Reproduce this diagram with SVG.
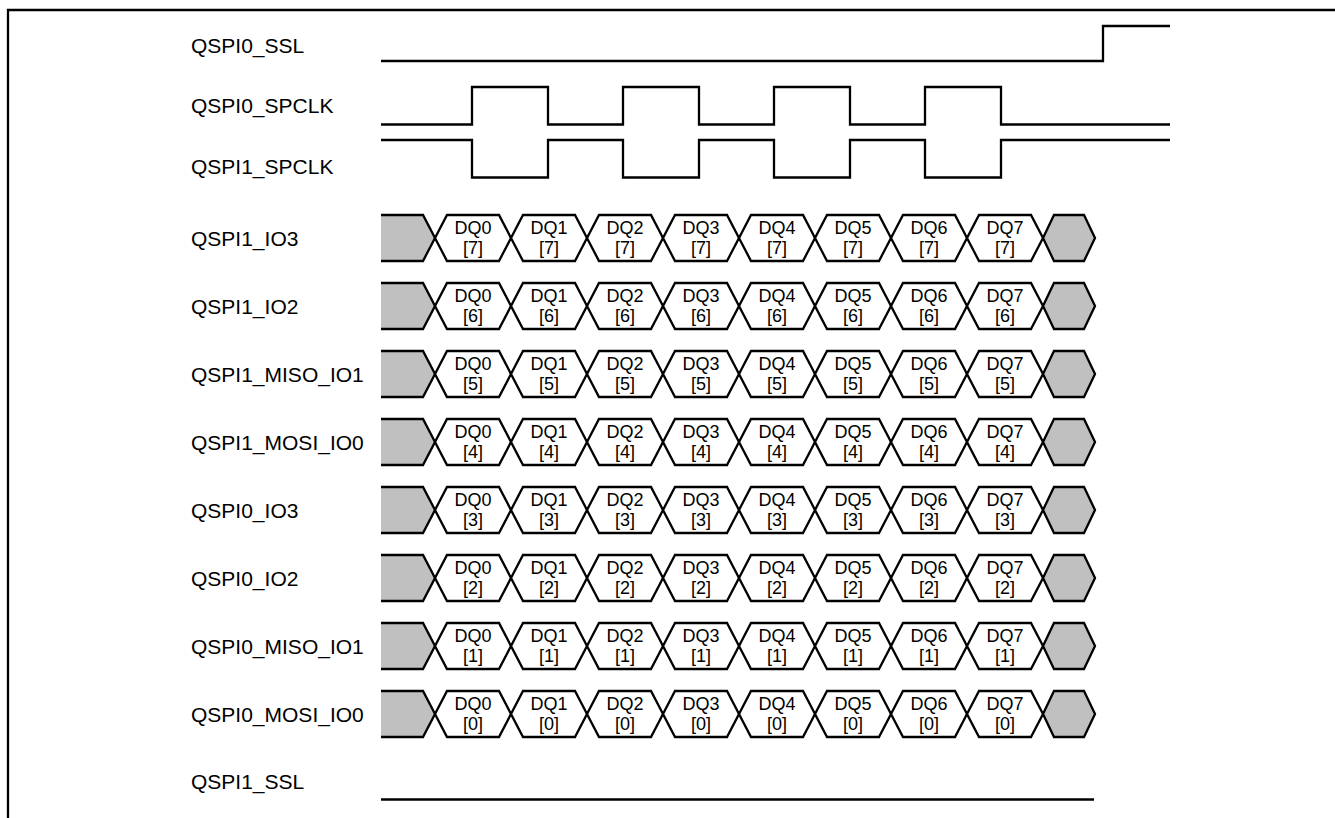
<svg xmlns="http://www.w3.org/2000/svg" xmlns:xlink="http://www.w3.org/1999/xlink" width="1335" height="818" viewBox="0 0 1335 818">
<style>
.frame{fill:none;stroke:#000;stroke-width:2.3}
.w{fill:none;stroke:#000;stroke-width:2.3;stroke-linejoin:miter}
.hx{fill:#fff;stroke:#000;stroke-width:2.3;stroke-linejoin:miter}
.gh{fill:#c0c0c0;stroke:#000;stroke-width:2.3;stroke-linejoin:miter}
.gf{fill:#c0c0c0;stroke:none}
.lbl{font-family:"Liberation Sans",Arial,sans-serif;font-size:21px;fill:#000}
.dq{font-family:"Liberation Sans",Arial,sans-serif;font-size:18px;fill:#000;text-anchor:middle}
</style>
<defs>
<polygon id="hex" points="0,0 12,-23 64,-23 76,0 64,23 12,23"/>
<polygon id="endhex" points="0,0 11,-23 41,-23 52,0 41,23 11,23"/>
<polygon id="startfill" points="381,-23 423,-23 435,0 423,23 381,23"/>
<path id="startline" d="M381,-23 H423 L435,0 L423,23 H381"/>
</defs>
<rect width="1335" height="818" fill="#fff"/>
<path class="frame" d="M1335,10 H8 V818"/>

<g id="qspi0_ssl">
<text class="lbl" x="191" y="53">QSPI0_SSL</text>
<path class="w" d="M381,61 H1103 V26 H1170"/>
</g>
<g id="qspi0_spclk">
<text class="lbl" x="191" y="112.5">QSPI0_SPCLK</text>
<path class="w" d="M381,124.5 H472 V87 H548 V124.5 H623 V87 H699 V124.5 H774 V87 H850 V124.5 H925 V87 H1001 V124.5 H1170"/>
</g>
<g id="qspi1_spclk">
<text class="lbl" x="191" y="174">QSPI1_SPCLK</text>
<path class="w" d="M381,140 H472 V177.5 H548 V140 H623 V177.5 H699 V140 H774 V177.5 H850 V140 H925 V177.5 H1001 V140 H1170"/>
</g>

<g id="qspi1_io3" transform="translate(0,238)">
<text class="lbl" x="191" y="8">QSPI1_IO3</text>
<use href="#startfill" class="gf"/><use href="#startline" class="w"/>
<use href="#hex" class="hx" x="435"/><use href="#hex" class="hx" x="511"/><use href="#hex" class="hx" x="587"/><use href="#hex" class="hx" x="663"/><use href="#hex" class="hx" x="739"/><use href="#hex" class="hx" x="815"/><use href="#hex" class="hx" x="891"/><use href="#hex" class="hx" x="967"/>
<use href="#endhex" class="gh" x="1043"/>
<g class="dq"><text x="473" y="-4">DQ0</text><text x="549" y="-4">DQ1</text><text x="625" y="-4">DQ2</text><text x="701" y="-4">DQ3</text><text x="777" y="-4">DQ4</text><text x="853" y="-4">DQ5</text><text x="929" y="-4">DQ6</text><text x="1005" y="-4">DQ7</text>
<text x="473" y="16">[7]</text><text x="549" y="16">[7]</text><text x="625" y="16">[7]</text><text x="701" y="16">[7]</text><text x="777" y="16">[7]</text><text x="853" y="16">[7]</text><text x="929" y="16">[7]</text><text x="1005" y="16">[7]</text></g>
</g>

<g id="qspi1_io2" transform="translate(0,306)">
<text class="lbl" x="191" y="8">QSPI1_IO2</text>
<use href="#startfill" class="gf"/><use href="#startline" class="w"/>
<use href="#hex" class="hx" x="435"/><use href="#hex" class="hx" x="511"/><use href="#hex" class="hx" x="587"/><use href="#hex" class="hx" x="663"/><use href="#hex" class="hx" x="739"/><use href="#hex" class="hx" x="815"/><use href="#hex" class="hx" x="891"/><use href="#hex" class="hx" x="967"/>
<use href="#endhex" class="gh" x="1043"/>
<g class="dq"><text x="473" y="-4">DQ0</text><text x="549" y="-4">DQ1</text><text x="625" y="-4">DQ2</text><text x="701" y="-4">DQ3</text><text x="777" y="-4">DQ4</text><text x="853" y="-4">DQ5</text><text x="929" y="-4">DQ6</text><text x="1005" y="-4">DQ7</text>
<text x="473" y="16">[6]</text><text x="549" y="16">[6]</text><text x="625" y="16">[6]</text><text x="701" y="16">[6]</text><text x="777" y="16">[6]</text><text x="853" y="16">[6]</text><text x="929" y="16">[6]</text><text x="1005" y="16">[6]</text></g>
</g>

<g id="qspi1_miso_io1" transform="translate(0,374)">
<text class="lbl" x="191" y="8">QSPI1_MISO_IO1</text>
<use href="#startfill" class="gf"/><use href="#startline" class="w"/>
<use href="#hex" class="hx" x="435"/><use href="#hex" class="hx" x="511"/><use href="#hex" class="hx" x="587"/><use href="#hex" class="hx" x="663"/><use href="#hex" class="hx" x="739"/><use href="#hex" class="hx" x="815"/><use href="#hex" class="hx" x="891"/><use href="#hex" class="hx" x="967"/>
<use href="#endhex" class="gh" x="1043"/>
<g class="dq"><text x="473" y="-4">DQ0</text><text x="549" y="-4">DQ1</text><text x="625" y="-4">DQ2</text><text x="701" y="-4">DQ3</text><text x="777" y="-4">DQ4</text><text x="853" y="-4">DQ5</text><text x="929" y="-4">DQ6</text><text x="1005" y="-4">DQ7</text>
<text x="473" y="16">[5]</text><text x="549" y="16">[5]</text><text x="625" y="16">[5]</text><text x="701" y="16">[5]</text><text x="777" y="16">[5]</text><text x="853" y="16">[5]</text><text x="929" y="16">[5]</text><text x="1005" y="16">[5]</text></g>
</g>

<g id="qspi1_mosi_io0" transform="translate(0,442)">
<text class="lbl" x="191" y="8">QSPI1_MOSI_IO0</text>
<use href="#startfill" class="gf"/><use href="#startline" class="w"/>
<use href="#hex" class="hx" x="435"/><use href="#hex" class="hx" x="511"/><use href="#hex" class="hx" x="587"/><use href="#hex" class="hx" x="663"/><use href="#hex" class="hx" x="739"/><use href="#hex" class="hx" x="815"/><use href="#hex" class="hx" x="891"/><use href="#hex" class="hx" x="967"/>
<use href="#endhex" class="gh" x="1043"/>
<g class="dq"><text x="473" y="-4">DQ0</text><text x="549" y="-4">DQ1</text><text x="625" y="-4">DQ2</text><text x="701" y="-4">DQ3</text><text x="777" y="-4">DQ4</text><text x="853" y="-4">DQ5</text><text x="929" y="-4">DQ6</text><text x="1005" y="-4">DQ7</text>
<text x="473" y="16">[4]</text><text x="549" y="16">[4]</text><text x="625" y="16">[4]</text><text x="701" y="16">[4]</text><text x="777" y="16">[4]</text><text x="853" y="16">[4]</text><text x="929" y="16">[4]</text><text x="1005" y="16">[4]</text></g>
</g>

<g id="qspi0_io3" transform="translate(0,510)">
<text class="lbl" x="191" y="8">QSPI0_IO3</text>
<use href="#startfill" class="gf"/><use href="#startline" class="w"/>
<use href="#hex" class="hx" x="435"/><use href="#hex" class="hx" x="511"/><use href="#hex" class="hx" x="587"/><use href="#hex" class="hx" x="663"/><use href="#hex" class="hx" x="739"/><use href="#hex" class="hx" x="815"/><use href="#hex" class="hx" x="891"/><use href="#hex" class="hx" x="967"/>
<use href="#endhex" class="gh" x="1043"/>
<g class="dq"><text x="473" y="-4">DQ0</text><text x="549" y="-4">DQ1</text><text x="625" y="-4">DQ2</text><text x="701" y="-4">DQ3</text><text x="777" y="-4">DQ4</text><text x="853" y="-4">DQ5</text><text x="929" y="-4">DQ6</text><text x="1005" y="-4">DQ7</text>
<text x="473" y="16">[3]</text><text x="549" y="16">[3]</text><text x="625" y="16">[3]</text><text x="701" y="16">[3]</text><text x="777" y="16">[3]</text><text x="853" y="16">[3]</text><text x="929" y="16">[3]</text><text x="1005" y="16">[3]</text></g>
</g>

<g id="qspi0_io2" transform="translate(0,578)">
<text class="lbl" x="191" y="8">QSPI0_IO2</text>
<use href="#startfill" class="gf"/><use href="#startline" class="w"/>
<use href="#hex" class="hx" x="435"/><use href="#hex" class="hx" x="511"/><use href="#hex" class="hx" x="587"/><use href="#hex" class="hx" x="663"/><use href="#hex" class="hx" x="739"/><use href="#hex" class="hx" x="815"/><use href="#hex" class="hx" x="891"/><use href="#hex" class="hx" x="967"/>
<use href="#endhex" class="gh" x="1043"/>
<g class="dq"><text x="473" y="-4">DQ0</text><text x="549" y="-4">DQ1</text><text x="625" y="-4">DQ2</text><text x="701" y="-4">DQ3</text><text x="777" y="-4">DQ4</text><text x="853" y="-4">DQ5</text><text x="929" y="-4">DQ6</text><text x="1005" y="-4">DQ7</text>
<text x="473" y="16">[2]</text><text x="549" y="16">[2]</text><text x="625" y="16">[2]</text><text x="701" y="16">[2]</text><text x="777" y="16">[2]</text><text x="853" y="16">[2]</text><text x="929" y="16">[2]</text><text x="1005" y="16">[2]</text></g>
</g>

<g id="qspi0_miso_io1" transform="translate(0,646)">
<text class="lbl" x="191" y="8">QSPI0_MISO_IO1</text>
<use href="#startfill" class="gf"/><use href="#startline" class="w"/>
<use href="#hex" class="hx" x="435"/><use href="#hex" class="hx" x="511"/><use href="#hex" class="hx" x="587"/><use href="#hex" class="hx" x="663"/><use href="#hex" class="hx" x="739"/><use href="#hex" class="hx" x="815"/><use href="#hex" class="hx" x="891"/><use href="#hex" class="hx" x="967"/>
<use href="#endhex" class="gh" x="1043"/>
<g class="dq"><text x="473" y="-4">DQ0</text><text x="549" y="-4">DQ1</text><text x="625" y="-4">DQ2</text><text x="701" y="-4">DQ3</text><text x="777" y="-4">DQ4</text><text x="853" y="-4">DQ5</text><text x="929" y="-4">DQ6</text><text x="1005" y="-4">DQ7</text>
<text x="473" y="16">[1]</text><text x="549" y="16">[1]</text><text x="625" y="16">[1]</text><text x="701" y="16">[1]</text><text x="777" y="16">[1]</text><text x="853" y="16">[1]</text><text x="929" y="16">[1]</text><text x="1005" y="16">[1]</text></g>
</g>

<g id="qspi0_mosi_io0" transform="translate(0,714)">
<text class="lbl" x="191" y="8">QSPI0_MOSI_IO0</text>
<use href="#startfill" class="gf"/><use href="#startline" class="w"/>
<use href="#hex" class="hx" x="435"/><use href="#hex" class="hx" x="511"/><use href="#hex" class="hx" x="587"/><use href="#hex" class="hx" x="663"/><use href="#hex" class="hx" x="739"/><use href="#hex" class="hx" x="815"/><use href="#hex" class="hx" x="891"/><use href="#hex" class="hx" x="967"/>
<use href="#endhex" class="gh" x="1043"/>
<g class="dq"><text x="473" y="-4">DQ0</text><text x="549" y="-4">DQ1</text><text x="625" y="-4">DQ2</text><text x="701" y="-4">DQ3</text><text x="777" y="-4">DQ4</text><text x="853" y="-4">DQ5</text><text x="929" y="-4">DQ6</text><text x="1005" y="-4">DQ7</text>
<text x="473" y="16">[0]</text><text x="549" y="16">[0]</text><text x="625" y="16">[0]</text><text x="701" y="16">[0]</text><text x="777" y="16">[0]</text><text x="853" y="16">[0]</text><text x="929" y="16">[0]</text><text x="1005" y="16">[0]</text></g>
</g>

<g id="qspi1_ssl">
<text class="lbl" x="191" y="789">QSPI1_SSL</text>
<path class="w" d="M381,799.5 H1094"/>
</g>
</svg>
